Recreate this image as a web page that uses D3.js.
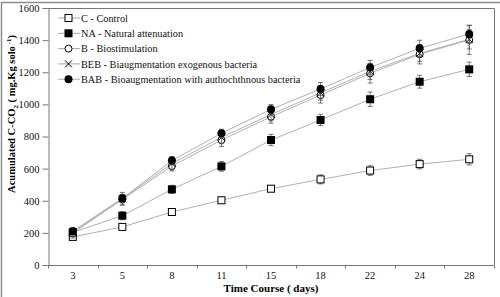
<!DOCTYPE html>
<html>
<head>
<meta charset="utf-8">
<script src="https://cdn.jsdelivr.net/npm/d3@7"></script>
<style>
  body { margin: 0; background: #fff; }
  svg { display: block; }
  svg text { font-family: "Liberation Serif", "Times New Roman", serif; }
</style>
</head>
<body>
<div class="chart"></div>
<script>
// days of sampling (category axis)
var days = ["3", "5", "8", "11", "15", "18", "22", "24", "28"];
var yTicks = [0, 200, 400, 600, 800, 1000, 1200, 1400, 1600];

// accumulated C-CO2 values (mg.Kg solo-1)
var control = [175, 237, 330, 403, 475, 533, 588, 628, 658];
var natural = [203, 307, 471, 614, 778, 903, 1032, 1141, 1218];
var biostim = [198, 408, 616, 778, 923, 1058, 1193, 1312, 1401];
var beb     = [205, 412, 632, 795, 937, 1072, 1205, 1318, 1405];
var bab     = [210, 415, 650, 820, 969, 1096, 1229, 1349, 1438];

// error bars
var controlErr = [18, 15, 18, 15, 15, 28, 30, 30, 35];
var naturalErr = [25, 25, 25, 30, 35, 35, 45, 40, 45];
var biostimErr = [30, 30, 30, 40, 40, 50, 60, 60, 90];
var bebErr     = [25, 40, 40, 40, 40, 45, 50, 50, 60];
var babErr     = [20, 25, 25, 25, 30, 40, 45, 50, 55];

var labels = [
  "C - Control",
  "NA - Natural attenuation",
  "B - Biostimulation",
  "BEB - Biaugmentation exogenous bacteria",
  "BAB - Bioaugmentation with authochthnous bacteria"
];

var series = [
  { name: labels[0], values: control, err: controlErr, marker: "sqOpen" },
  { name: labels[1], values: natural, err: naturalErr, marker: "sqFill" },
  { name: labels[2], values: biostim, err: biostimErr, marker: "circOpen" },
  { name: labels[3], values: beb, err: bebErr, marker: "cross" },
  { name: labels[4], values: bab, err: babErr, marker: "circFill" }
];

var width = 500, height = 297;
var margin = { left: 48, right: 6, top: 8, bottom: 32 };

var svg = d3.select(".chart").append("svg")
  .attr("width", width)
  .attr("height", height);

// outer frame
svg.append("rect")
  .attr("x", 1.5).attr("y", 2.5)
  .attr("width", width + 10).attr("height", height + 10)
  .attr("fill", "none").attr("stroke", "#8c8c8c").attr("stroke-width", 1.5);

var x = d3.scaleBand()
  .domain(days)
  .range([margin.left, width - margin.right]);

var y = d3.scaleLinear()
  .domain([0, 1600])
  .range([height - margin.bottom, margin.top]);

var plotRight = width - margin.right;

// plot frame (top and right)
svg.append("path")
  .attr("d", "M" + margin.left + "," + (margin.top + 0.5) + "H" + (plotRight + 0.5) + "V" + y(0))
  .attr("fill", "none").attr("stroke", "#777").attr("stroke-width", 1);

// y axis
var yAxis = svg.append("g")
  .attr("transform", "translate(" + (margin.left + 0.5) + ",0)")
  .call(d3.axisLeft(y).tickValues(yTicks).tickFormat(d3.format("d")).tickSize(6).tickPadding(3));
yAxis.attr("font-family", null);
yAxis.select(".domain").attr("stroke", "#777");
yAxis.selectAll(".tick line").attr("stroke", "#777");
yAxis.selectAll("text").attr("font-size", 10.5).attr("fill", "#111");

// x axis with ticks between categories
var xg = svg.append("g")
  .attr("transform", "translate(0," + (y(0) + 0.5) + ")");
xg.append("line")
  .attr("x1", margin.left).attr("x2", plotRight)
  .attr("stroke", "#777");
var bounds = days.map(function(d) { return x(d); }).concat([plotRight]);
xg.selectAll(".bt").data(bounds).enter().append("line")
  .attr("x1", function(d) { return Math.round(d) + 0.5; })
  .attr("x2", function(d) { return Math.round(d) + 0.5; })
  .attr("y1", 0).attr("y2", 3)
  .attr("stroke", "#777");
xg.selectAll(".lb").data(days).enter().append("text")
  .attr("x", function(d) { return x(d) + x.bandwidth() / 2; })
  .attr("y", 13)
  .attr("text-anchor", "middle")
  .attr("font-size", 10.5).attr("fill", "#111")
  .text(function(d) { return d; });

// axis titles
svg.append("text")
  .attr("x", x("15") + x.bandwidth() / 2)
  .attr("y", 292)
  .attr("text-anchor", "middle")
  .attr("font-size", 11).attr("font-weight", "bold")
  .text("Time Course ( days)");

var yt = svg.append("text")
  .attr("transform", "translate(15,114) rotate(-90)")
  .attr("text-anchor", "middle")
  .attr("font-size", 10.5).attr("font-weight", "bold");
yt.append("tspan").text("Acumulated C-CO");
yt.append("tspan").attr("font-size", 7).attr("dy", 3).text("2");
yt.append("tspan").attr("dy", -3).text(" ( mg.Kg solo");
yt.append("tspan").attr("font-size", 7).attr("dy", -4).text(" -1");
yt.append("tspan").attr("dy", 4).text(")");

function cx(i) { return x(days[i]) + x.bandwidth() / 2; }

function drawMarker(g, type, px, py) {
  if (type === "sqOpen") {
    g.append("rect").attr("x", px - 3.5).attr("y", py - 3.5).attr("width", 7).attr("height", 7)
      .attr("fill", "#fff").attr("stroke", "#000").attr("stroke-width", 1);
  } else if (type === "sqFill") {
    g.append("rect").attr("x", px - 4).attr("y", py - 4).attr("width", 8).attr("height", 8)
      .attr("fill", "#000");
  } else if (type === "circOpen") {
    g.append("circle").attr("cx", px).attr("cy", py).attr("r", 3.5)
      .attr("fill", "#fff").attr("stroke", "#000").attr("stroke-width", 1);
  } else if (type === "cross") {
    g.append("path")
      .attr("d", "M" + (px - 3.5) + "," + (py - 3.5) + "L" + (px + 3.5) + "," + (py + 3.5) +
                 "M" + (px - 3.5) + "," + (py + 3.5) + "L" + (px + 3.5) + "," + (py - 3.5))
      .attr("stroke", "#000").attr("stroke-width", 1);
  } else {
    g.append("circle").attr("cx", px).attr("cy", py).attr("r", 4).attr("fill", "#000");
  }
}

var line = d3.line()
  .x(function(d, i) { return cx(i); })
  .y(function(d) { return y(d); });

// lines first
series.forEach(function(s) {
  svg.append("path")
    .datum(s.values)
    .attr("d", line)
    .attr("fill", "none")
    .attr("stroke", "#b0b0b0")
    .attr("stroke-width", 1);
});

// error bars and markers
series.forEach(function(s) {
  var g = svg.append("g");
  s.values.forEach(function(v, i) {
    var px = cx(i);
    var top = y(v + s.err[i]), bot = y(v - s.err[i]);
    g.append("line").attr("x1", px).attr("x2", px).attr("y1", top).attr("y2", bot)
      .attr("stroke", "#555").attr("stroke-width", 0.8);
    g.append("line").attr("x1", px - 2.5).attr("x2", px + 2.5).attr("y1", top).attr("y2", top)
      .attr("stroke", "#555").attr("stroke-width", 0.8);
    g.append("line").attr("x1", px - 2.5).attr("x2", px + 2.5).attr("y1", bot).attr("y2", bot)
      .attr("stroke", "#555").attr("stroke-width", 0.8);
  });
  s.values.forEach(function(v, i) {
    drawMarker(g, s.marker, cx(i), y(v));
  });
});

// legend
var legend = svg.append("g");
series.forEach(function(s, i) {
  var ly = 18 + i * 15.3;
  legend.append("line")
    .attr("x1", 58).attr("x2", 80).attr("y1", ly).attr("y2", ly)
    .attr("stroke", "#a8a8a8").attr("stroke-width", 1);
  drawMarker(legend, s.marker, 68.5, ly);
  legend.append("text")
    .attr("x", 81).attr("y", ly + 3.6)
    .attr("font-size", 10.3).attr("fill", "#111")
    .text(s.name);
});
</script>
</body>
</html>
